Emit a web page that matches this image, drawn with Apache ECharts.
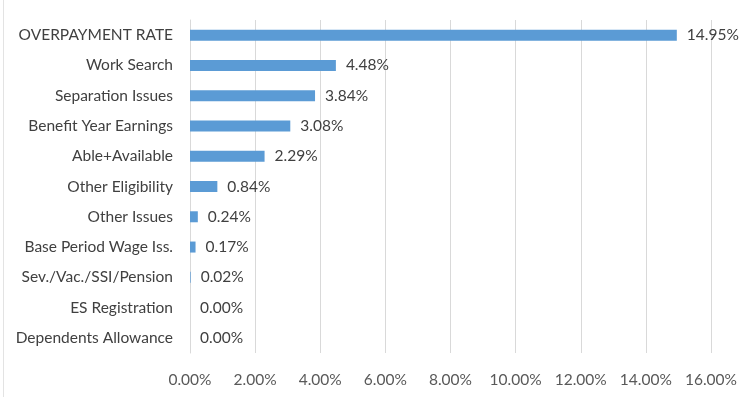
<!DOCTYPE html>
<html>
<head>
<meta charset="utf-8">
<script src="https://cdn.jsdelivr.net/npm/echarts@6/dist/echarts.min.js"></script>
<style>
  html, body { margin: 0; padding: 0; background: #fff; }
  #chart { width: 750px; height: 397px; }
</style>
</head>
<body>
<div id="chart"></div>
<script>
// categories, top to bottom
const categories = [
  'OVERPAYMENT RATE',
  'Work Search',
  'Separation Issues',
  'Benefit Year Earnings',
  'Able+Available',
  'Other Eligibility',
  'Other Issues',
  'Base Period Wage Iss.',
  'Sev./Vac./SSI/Pension',
  'ES Registration',
  'Dependents Allowance'
];
// rates in percent
const rates = [14.95, 4.48, 3.84, 3.08, 2.29, 0.84, 0.24, 0.17, 0.02, 0.00, 0.00];

const font = 'Lato, "Open Sans", sans-serif';
const chart = echarts.init(document.getElementById('chart'));

chart.setOption({
  animation: false,
  grid: { left: 190, right: 39, top: 20, bottom: 44 },
  xAxis: {
    type: 'value',
    min: 0,
    max: 16,
    interval: 2,
    axisLine: { show: false },
    axisTick: { show: false },
    splitLine: { lineStyle: { color: '#d9d9d9', width: 1 } },
    axisLabel: {
      margin: 19,
      color: '#595959',
      fontFamily: font,
      fontSize: 15.5,
      formatter: v => v.toFixed(2) + '%'
    }
  },
  yAxis: {
    type: 'category',
    inverse: true,
    data: categories,
    axisLine: { lineStyle: { color: '#d9d9d9' } },
    axisTick: { show: false },
    axisLabel: {
      margin: 17,
      color: '#404040',
      fontFamily: font,
      fontSize: 15.5
    }
  },
  series: [{
    type: 'bar',
    data: rates,
    barWidth: 11,
    itemStyle: { color: '#5b9bd5' },
    label: {
      show: true,
      position: 'right',
      distance: 10,
      color: '#404040',
      fontFamily: font,
      fontSize: 15.5,
      formatter: p => p.value.toFixed(2) + '%'
    }
  }],
  graphic: [{
    type: 'line',
    shape: { x1: 3.5, y1: 0, x2: 3.5, y2: 397 },
    style: { stroke: '#e3e3e3', lineWidth: 1 },
    silent: true
  }]
});
</script>
</body>
</html>
